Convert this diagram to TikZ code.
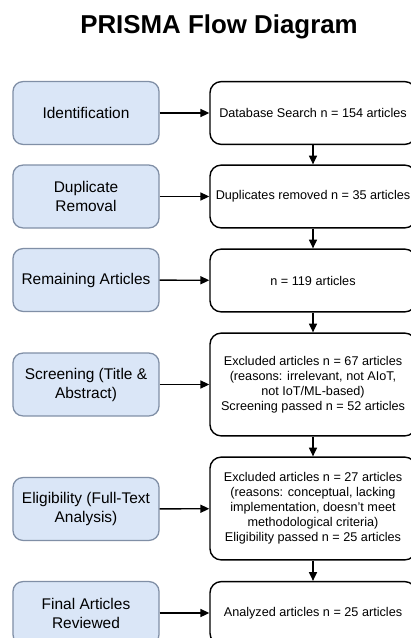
\documentclass[tikz,border=0pt]{standalone}
\usepackage{fontspec}
\setmainfont{Liberation Sans}
\usetikzlibrary{arrows.meta}
\definecolor{stagefill}{RGB}{218,230,247}
\definecolor{stageline}{RGB}{128,143,166}

\begin{document}
\begin{tikzpicture}[x=0.025cm, y=-0.025cm,
  stage/.style={rectangle, rounded corners=7pt, draw=stageline, line width=0.9pt, fill=stagefill,
    minimum width=3.65cm, minimum height=1.57cm, align=center,
    font=\fontsize{11}{13.5}\selectfont},
  info/.style={rectangle, rounded corners=8pt, draw=black, line width=1pt, fill=white,
    minimum width=5.15cm, minimum height=1.57cm, inner xsep=2pt, align=center,
    font=\fontsize{9}{10.6}\selectfont},
  tall/.style={minimum height=2.57cm},
  flow/.style={draw=black, line width=1pt, -{Triangle[length=2.2mm, width=2mm]}},
  heading/.style={font=\fontsize{18.4}{22}\selectfont\bfseries}
]
  \useasboundingbox (0,0) rectangle (411,638);
  \clip (0,0) rectangle (411,638);
  \fill[white] (0,0) rectangle (411,638);
  \node[heading] (title) at (219,27) {PRISMA Flow Diagram};
  \node[stage] (S1) at (86,113)   {Identification};
  \node[stage] (S2) at (86,196.5) {Duplicate\\Removal};
  \node[stage] (S3) at (86,280)   {Remaining Articles};
  \node[stage] (S4) at (86,384.5) {Screening (Title \&\\Abstract)};
  \node[stage] (S5) at (86,509)   {Eligibility (Full-Text\\Analysis)};
  \node[stage] (S6) at (86,613)   {Final Articles\\Reviewed};
  \node[info] (R1) at (313,113)   {Database Search n = 154 articles};
  \node[info] (R2) at (313,196.5) {Duplicates removed n = 35 articles};
  \node[info] (R3) at (313,280.5) {n = 119 articles};
  \node[info, tall] (R4) at (313,384.5) {Excluded articles n = 67 articles\\(reasons: irrelevant, not AIoT,\\not IoT/ML-based)\\Screening passed n = 52 articles};
  \node[info, tall] (R5) at (313,508.5) {Excluded articles n = 27 articles\\(reasons: conceptual, lacking\\implementation, doesn't meet\\methodological criteria)\\Eligibility passed n = 25 articles};
  \node[info] (R6) at (313,613)   {Analyzed articles n = 25 articles};
  \foreach \i in {1,...,6}
    \draw[flow] (S\i) -- (R\i);
  \foreach \i/\j in {1/2,2/3,3/4,4/5,5/6}
    \draw[flow] (R\i) -- (R\j);
\end{tikzpicture}
\end{document}
